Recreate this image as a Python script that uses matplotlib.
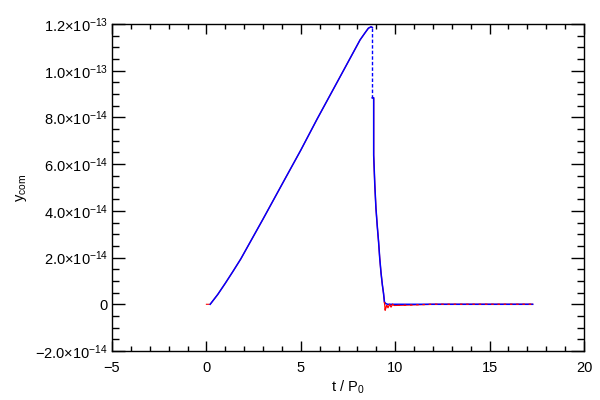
import numpy as np
import matplotlib
matplotlib.use("Agg")
import matplotlib.pyplot as plt
from matplotlib.ticker import FixedLocator, FuncFormatter

plt.rcParams["font.family"] = "Liberation Sans"
plt.rcParams["mathtext.fontset"] = "custom"
plt.rcParams["mathtext.rm"] = "Liberation Sans"
plt.rcParams["mathtext.it"] = "Liberation Sans"

# ── data (y in units of 1e-14) ────────────────────────────────────────────────
# rise up to the peak
t_blue_rise = [0.2, 0.6, 1.0, 1.4, 1.82, 3.0, 4.13, 5.0, 5.87, 7.0, 8.14, 8.4, 8.58, 8.72, 8.79]
y_blue_rise = [0.0, 0.42, 0.9, 1.4, 1.94, 3.65, 5.32, 6.6, 7.94, 9.62, 11.32, 11.62, 11.82, 11.88, 11.85]
# collapse and flat tail
t_blue_fall = [8.79, 8.86, 8.86, 8.92, 8.98, 9.05, 9.12, 9.18, 9.25, 9.32, 9.38,
               9.43, 9.5, 9.6, 12.0, 17.28]
y_blue_fall = [8.84, 8.84, 6.39, 5.11, 4.12, 3.35, 2.67, 1.98, 1.34, 0.83, 0.48,
               0.1, 0.03, 0.0, 0.0, 0.0]

t_red_rise = [0.0, 0.2, 0.6, 1.0, 1.4, 1.82, 3.0, 4.13, 5.0, 5.87, 7.0, 8.14, 8.4, 8.58, 8.72, 8.79]
y_red_rise = [0.0, 0.0, 0.42, 0.9, 1.4, 1.94, 3.65, 5.32, 6.6, 7.94, 9.62, 11.32, 11.62, 11.82, 11.88, 11.85]
t_red_fall = [8.79, 8.86, 8.86, 8.92, 8.98, 9.05, 9.12, 9.18, 9.25, 9.32, 9.38,
              9.43, 9.47, 9.55, 9.62, 9.7, 9.78, 9.86, 9.95, 12.0, 17.28]
y_red_fall = [8.84, 8.84, 6.39, 5.11, 4.12, 3.35, 2.67, 1.98, 1.34, 0.83, 0.48,
              0.1, -0.25, -0.05, -0.15, 0.0, -0.12, 0.0, -0.05, 0.0, 0.0]

x_major = [-5, 0, 5, 10, 15, 20]
x_minor = [v for v in range(-5, 21) if v % 5]
y_major = [-2e-14, 0, 2e-14, 4e-14, 6e-14, 8e-14, 1.0e-13, 1.2e-13]
y_minor = [k * 0.5e-14 for k in range(-4, 25) if k % 4]

SCALE = 1e-14
RED, BLUE = "#ff0000", "#0000ff"

# ── plot ──────────────────────────────────────────────────────────────────────
fig = plt.figure(figsize=(6, 4), dpi=100)
ax = fig.add_axes([0.1867, 0.1225, 0.7866, 0.8175])

ax.plot(t_red_rise, np.array(y_red_rise) * SCALE, color=RED, lw=0.8)
ax.plot(t_red_fall, np.array(y_red_fall) * SCALE, color=RED, lw=0.9)
ax.plot(t_blue_rise, np.array(y_blue_rise) * SCALE, color=BLUE, lw=1.1)
ax.plot(t_blue_fall, np.array(y_blue_fall) * SCALE, color=BLUE, lw=1.1)
# sparse-sampled drop right after the peak
ax.plot([t_blue_rise[-1], t_blue_fall[0]],
        [y_blue_rise[-1] * SCALE, y_blue_fall[0] * SCALE],
        color=BLUE, lw=1.0, dashes=(2.5, 1.5))
# red and blue overlap along zero -> alternate
tr = np.array(t_red_fall)
yr = np.array(y_red_fall) * SCALE
flat = tr >= 9.43
ax.plot(tr[flat], yr[flat], color=RED, lw=0.9, dashes=(2, 3))

ax.set_xlim(-5, 20)
ax.set_ylim(-2e-14, 1.2e-13)

ax.xaxis.set_major_locator(FixedLocator(x_major))
ax.xaxis.set_minor_locator(FixedLocator(x_minor))
ax.yaxis.set_major_locator(FixedLocator(y_major))
ax.yaxis.set_minor_locator(FixedLocator(y_minor))


def yfmt(v, pos):
    if abs(v) < 1e-20:
        return "0"
    exp = int(np.floor(np.log10(abs(v)) + 1e-9))
    mant = v / 10**exp
    sign = "\u2212" if mant < 0 else ""
    return sign + "%.1f" % abs(mant) + r"$\times$10$^{\mathregular{-%d}}$" % (-exp)


def xfmt(v, pos):
    return "%d" % v if v >= 0 else "\u2212%d" % -v


ax.yaxis.set_major_formatter(FuncFormatter(yfmt))
ax.xaxis.set_major_formatter(FuncFormatter(xfmt))

ax.tick_params(which="both", direction="in", top=True, right=True, labelsize=10.5, width=1, color="black")
ax.tick_params(axis="x", which="major", length=7, pad=7)
ax.tick_params(axis="x", which="minor", length=3.5)
ax.tick_params(axis="y", which="major", length=9.5, pad=3)
ax.tick_params(axis="y", which="minor", length=5)
for s in ax.spines.values():
    s.set_linewidth(1)

ax.set_xlabel(r"t / P$_{\mathregular{0}}$", fontsize=10.5, labelpad=3)
ax.set_ylabel(r"y$_{\mathregular{com}}$", fontsize=10.5, labelpad=4)

plt.savefig("out.png", dpi=100)
